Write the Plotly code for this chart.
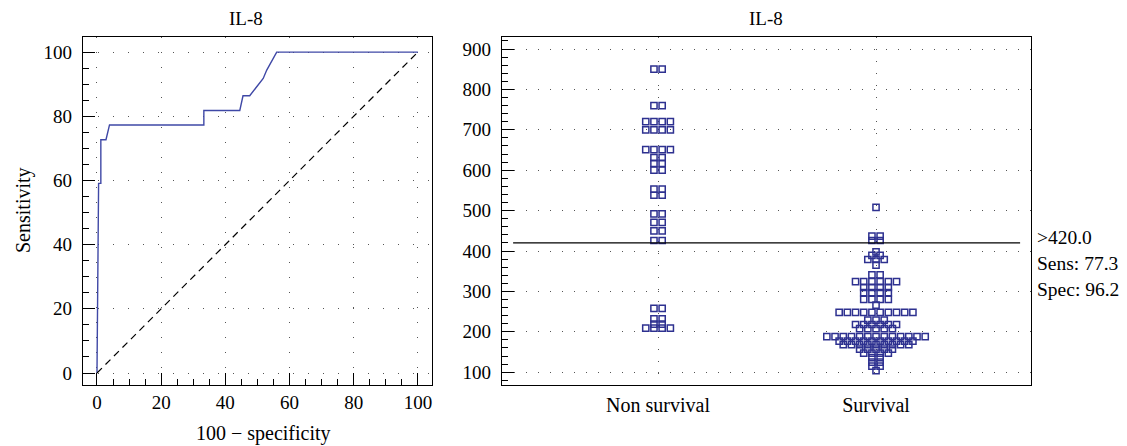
import plotly.graph_objects as go
from collections import Counter

# ---------------- data ----------------
roc_fpr = [0, 0.5, 1.2, 1.2, 2.8, 3.9, 33.3, 33.3, 44.5, 45.5, 47.6, 51.8, 52.9, 56.0, 100]
roc_tpr = [0, 59.1, 59.1, 72.7, 72.7, 77.3, 77.3, 81.8, 81.8, 86.4, 86.4, 91.8, 94.4, 100, 100]
ref_x = [0, 100]
ref_y = [0, 100]

categories = ["Non survival", "Survival"]
non_survival = ([850] * 2 + [760] * 2 + [720] * 4 + [700] * 4 + [651] * 4 + [631] * 2 +
                [617] * 2 + [600] * 2 + [553] * 2 + [538] * 2 + [492] * 2 + [471] * 2 +
                [450] * 2 + [426] * 2 + [258] * 2 + [232] * 2 + [219] * 2 + [209] * 4)
survival = ([508] * 1 + [437] * 2 + [426] * 2 + [398] * 1 + [389] * 2 + [379] * 3 + [365] * 1 +
            [341] * 2 + [324] * 6 + [310] * 4 + [297] * 4 + [280] * 4 + [266] * 1 + [248] * 10 +
            [229] * 3 + [218] * 6 + [208] * 5 + [188] * 13 + [177] * 10 + [168] * 9 +
            [157] * 5 + [147] * 4 + [136] * 2 + [125] * 2 + [115] * 2 + [104] * 1)
cutoff = 420.0
cut_text = [">420.0", "Sens: 77.3", "Spec: 96.2"]

FONT = "Liberation Serif"
NAVY = "#2e3190"
W, H = 1127, 446


def px(x):
    return x / W


def py(y):
    return 1 - y / H


# ---------------- figure ----------------
fig = go.Figure()

fig.add_trace(go.Scatter(x=roc_fpr, y=roc_tpr, mode="lines",
                         line=dict(color="#3f48a6", width=1.4),
                         xaxis="x", yaxis="y", showlegend=False))
fig.add_trace(go.Scatter(x=ref_x, y=ref_y, mode="lines",
                         line=dict(color="black", width=1.2, dash="7px,5px"),
                         xaxis="x", yaxis="y", showlegend=False))

step = 0.0376  # horizontal spacing between boxes in a row (category units)
for ci, vals in enumerate([non_survival, survival]):
    cnt = Counter(vals)
    xs, ys = [], []
    for v in sorted(cnt):
        n = cnt[v]
        for k in range(n):
            xs.append(ci + (k - (n - 1) / 2) * step)
            ys.append(v)
    fig.add_trace(go.Scatter(x=xs, y=ys, mode="markers",
                             marker=dict(symbol="square-open", size=6.2, color=NAVY,
                                         line=dict(width=1.5, color=NAVY)),
                             xaxis="x2", yaxis="y2", showlegend=False))

# cut-off line
fig.add_shape(type="line", xref="x2", yref="y2", x0=-0.665, x1=1.661, y0=cutoff, y1=cutoff,
              line=dict(color="black", width=1.4))

axis_common = dict(showline=True, linecolor="black", linewidth=1.4, mirror=True,
                   ticks="inside", tickcolor="black", tickwidth=1.2,
                   tickfont=dict(family=FONT, size=19, color="black"),
                   showgrid=True, gridcolor="#555555", gridwidth=1, zeroline=False)

ydom = [py(385), py(37)]
fig.update_layout(
    width=W, height=H,
    margin=dict(l=0, r=0, t=0, b=0),
    paper_bgcolor="white", plot_bgcolor="white",
    xaxis=dict(domain=[px(83), px(432)], range=[-4.36, 104.4], dtick=20, tick0=0,
               ticklen=12, griddash="1px,14px",
               minor=dict(dtick=5, tick0=0, ticklen=6, ticks="inside", tickcolor="black",
                          showgrid=False),
               anchor="y", ticklabelstandoff=0, **axis_common),
    yaxis=dict(domain=ydom, range=[-3.74, 104.7], dtick=20, tick0=0,
               ticklen=12, griddash="1px,14px",
               minor=dict(dtick=5, tick0=0, ticklen=6, ticks="inside", tickcolor="black",
                          showgrid=False),
               anchor="x", ticklabelstandoff=6, **axis_common),
    xaxis2=dict(domain=[px(502), px(1031)], range=[-0.716, 1.711],
                tickvals=[0, 1], ticktext=categories, griddash="1px,11px",
                anchor="y2", ticklabelstandoff=2,
                **{**axis_common, "ticks": "", "tickfont": dict(family=FONT, size=20, color="black")}),
    yaxis2=dict(domain=ydom, range=[68.3, 929.7], dtick=100, tick0=0,
                ticklen=12, griddash="1px,11px",
                minor=dict(dtick=20, ticklen=6, ticks="inside", tickcolor="black",
                           showgrid=False),
                anchor="x2", ticklabelstandoff=6, **axis_common),
)

ann_font = dict(family=FONT, size=20, color="black")
annotations = [
    dict(text="IL-8", x=px(246), y=py(18), xref="paper", yref="paper",
         showarrow=False, font=dict(family=FONT, size=19, color="black"),
         xanchor="center", yanchor="middle"),
    dict(text="IL-8", x=px(766), y=py(18), xref="paper", yref="paper",
         showarrow=False, font=dict(family=FONT, size=19, color="black"),
         xanchor="center", yanchor="middle"),
    dict(text="100 \u2212 specificity", x=px(263), y=py(433), xref="paper", yref="paper",
         showarrow=False, font=ann_font, xanchor="center", yanchor="middle"),
    dict(text="Sensitivity", x=px(23), y=py(210), xref="paper", yref="paper",
         showarrow=False, font=ann_font, textangle=-90, xanchor="center", yanchor="middle"),
]
for i, t in enumerate(cut_text):
    annotations.append(dict(text=t, x=px(1035), y=py(237 + 26 * i), xref="paper", yref="paper",
                            showarrow=False, font=dict(family=FONT, size=19.5, color="black"),
                            xanchor="left", yanchor="middle"))
fig.update_layout(annotations=annotations)

fig.write_html("out.html", config={"displayModeBar": False},
               post_script="document.body.style.margin='0px';")
